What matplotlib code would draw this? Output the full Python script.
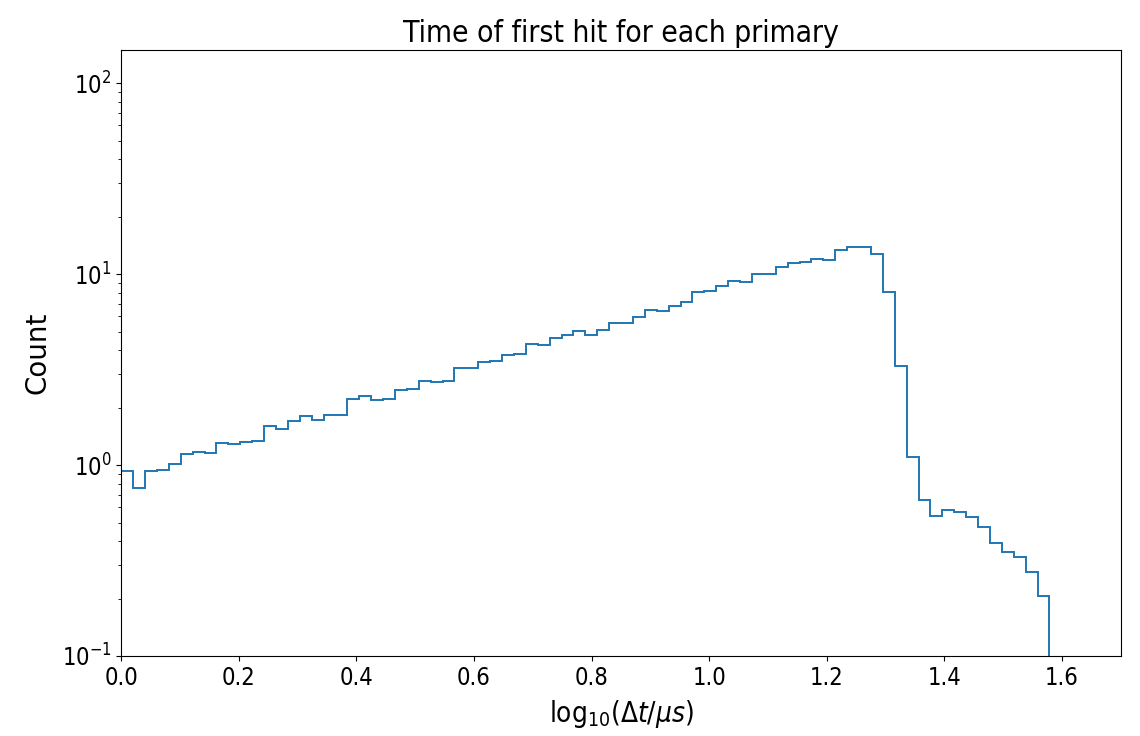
import matplotlib
matplotlib.use("Agg")
import matplotlib.pyplot as plt
import numpy as np

# bin edges of the histogram (log10 of time in microseconds)
edge_lo = 0.0
edge_hi = 1.579
n_bins = 78

# height of every bin
counts = [0.93, 0.755, 0.93, 0.945, 1.016, 1.14, 1.17, 1.15, 1.31, 1.29,
          1.32, 1.34, 1.61, 1.55, 1.71, 1.81, 1.72, 1.82, 1.82, 2.22,
          2.31, 2.20, 2.21, 2.46, 2.49, 2.77, 2.72, 2.77, 3.21, 3.23,
          3.46, 3.50, 3.75, 3.81, 4.31, 4.25, 4.64, 4.79, 5.05, 4.81,
          5.11, 5.56, 5.54, 5.98, 6.45, 6.40, 6.80, 7.15, 8.08, 8.18,
          8.62, 9.22, 9.04, 9.96, 10.04, 10.9, 11.4, 11.6, 12.0, 11.9,
          13.3, 13.8, 13.8, 12.7, 8.05, 3.29, 1.097, 0.658, 0.541, 0.579,
          0.570, 0.536, 0.475, 0.392, 0.349, 0.331, 0.276, 0.207]

edges = np.linspace(edge_lo, edge_hi, n_bins + 1)

plt.rcParams['font.family'] = ['DejaVu Sans']
plt.rcParams['font.stretch'] = 'condensed'

fig = plt.figure(figsize=(11.4, 7.36), dpi=100)
ax = fig.add_subplot(111)
fig.subplots_adjust(left=0.1064, right=0.983, top=0.932, bottom=0.1087)

ax.hist(edges[:-1], bins=edges, weights=counts, histtype='step', linewidth=1.4)
ax.set_yscale('log')
ax.set_xlim(0, 1.7)
ax.set_ylim(0.1, 149)

ax.set_title("Time of first hit for each primary", fontsize=21.5)
ax.set_xlabel(r"$\mathrm{log}_{10}(\Delta t/\mu s)$", fontsize=20, labelpad=6)
ax.set_ylabel("Count", fontsize=20, fontstretch='normal', labelpad=7)
ax.tick_params(axis='both', which='major', labelsize=17)

fig.savefig("out.png", dpi=100)
